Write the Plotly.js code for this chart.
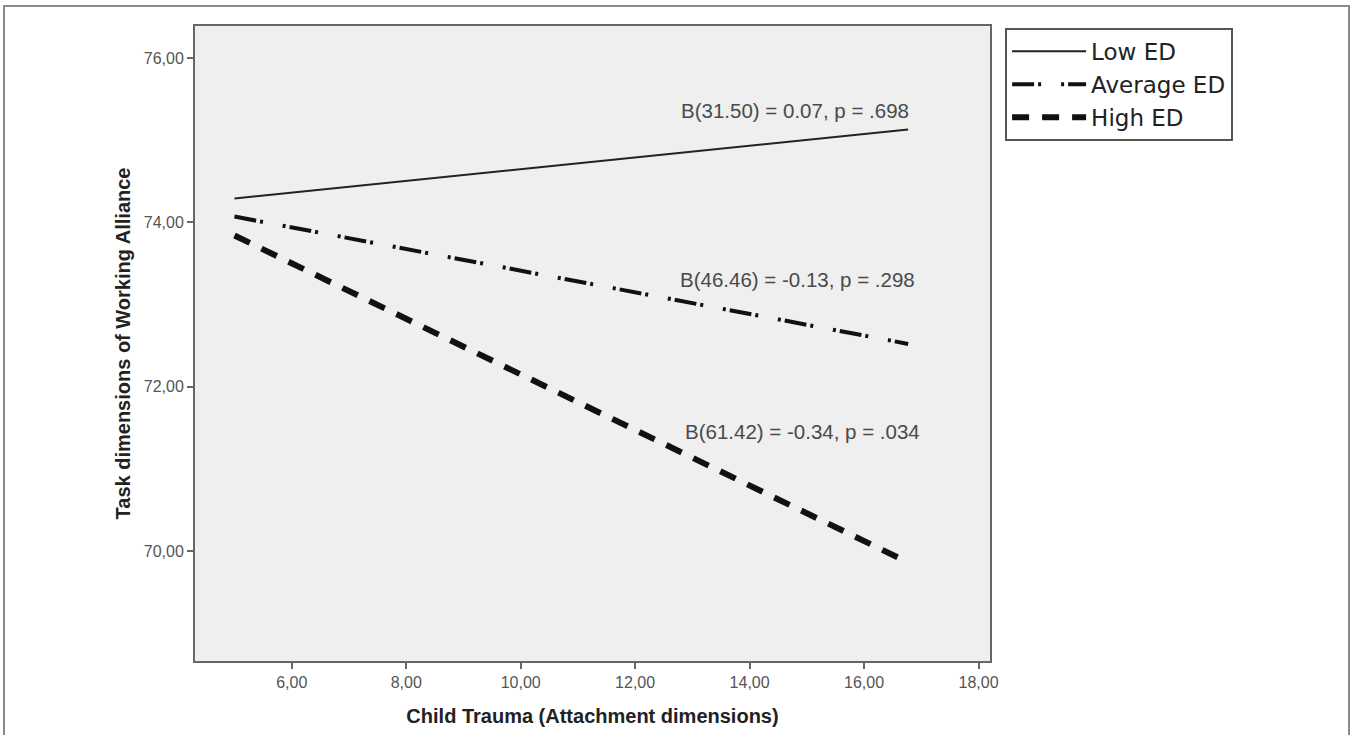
<!DOCTYPE html>
<html>
<head>
<meta charset="utf-8">
<script src="https://cdn.plot.ly/plotly-3.0.1.min.js"></script>
<style>
  html, body { margin: 0; padding: 0; background: #fff; }
  #frame { position: absolute; left: 3px; top: 5px; width: 1347px; height: 740px; border: 2px solid #8a8a8a; box-sizing: border-box; }
  #chart { position: absolute; left: 0; top: 0; width: 1351px; height: 735px; }
</style>
</head>
<body>
<div id="frame"></div>
<div id="chart"></div>
<script>
// Data
const seriesNames = ["Low ED", "Average ED", "High ED"];
const childTrauma = [5.0, 16.77];
const lowED = [74.29, 75.13];
const averageED = [74.07, 72.52];
const highED = [73.84, 69.86];

const annotationTexts = [
  "B(31.50) = 0.07, p = .698",
  "B(46.46) = -0.13, p = .298",
  "B(61.42) = -0.34, p = .034"
];
const annotationX = [14.8, 14.84, 14.92];
const annotationY = [75.36, 73.3, 71.45];

const xTickVals = [6, 8, 10, 12, 14, 16, 18];
const xTickText = ["6,00", "8,00", "10,00", "12,00", "14,00", "16,00", "18,00"];
const yTickVals = [70, 72, 74, 76];
const yTickText = ["70,00", "72,00", "74,00", "76,00"];

const traces = [
  { x: childTrauma, y: lowED, name: seriesNames[0], mode: "lines",
    line: { color: "#222", width: 2 } },
  { x: childTrauma, y: averageED, name: seriesNames[1], mode: "lines",
    line: { color: "#111", width: 4, dash: "22px,4px,3px,20px,3px,4px" } },
  { x: childTrauma, y: highED, name: seriesNames[2], mode: "lines",
    line: { color: "#111", width: 6, dash: "17px,13px" } }
];

const annotations = annotationTexts.map((t, i) => ({
  x: annotationX[i], y: annotationY[i], xref: "x", yref: "y",
  text: t, showarrow: false,
  font: { family: "Liberation Sans, Arial, sans-serif", size: 20.5, color: "#4a4a4a" }
}));

const layout = {
  width: 1351, height: 735,
  margin: { l: 195, r: 361, t: 26, b: 74 },
  paper_bgcolor: "rgba(0,0,0,0)",
  plot_bgcolor: "#efefef",
  showlegend: true,
  legend: {
    x: 1.019, y: 0.997, xanchor: "left", yanchor: "top",
    bgcolor: "#fff", bordercolor: "#555", borderwidth: 2,
    font: { family: "DejaVu Sans, Verdana, sans-serif", size: 23, color: "#222" },
    itemwidth: 74,
    tracegroupgap: 0
  },
  xaxis: {
    range: [4.31, 18.2],
    tickvals: xTickVals, ticktext: xTickText,
    ticks: "outside", ticklen: 6, tickwidth: 2, tickcolor: "#666",
    showgrid: false, zeroline: false,
    showline: true, linecolor: "#666", linewidth: 2, mirror: true,
    tickfont: { family: "Liberation Sans, Arial, sans-serif", size: 16, color: "#555" },
    title: { text: "Child Trauma (Attachment dimensions)", standoff: 19,
      font: { family: "Liberation Sans, Arial, sans-serif", size: 20, color: "#222", weight: "bold" } }
  },
  yaxis: {
    range: [68.66, 76.39],
    tickvals: yTickVals, ticktext: yTickText,
    ticks: "outside", ticklen: 6, tickwidth: 2, tickcolor: "#666",
    showgrid: false, zeroline: false,
    showline: true, linecolor: "#666", linewidth: 2, mirror: true,
    tickfont: { family: "Liberation Sans, Arial, sans-serif", size: 16, color: "#555" },
    title: { text: "Task dimensions of Working Alliance", standoff: 8,
      font: { family: "Liberation Sans, Arial, sans-serif", size: 20, color: "#222", weight: "bold" } }
  },
  annotations: annotations
};

Plotly.newPlot("chart", traces, layout, { displayModeBar: false, staticPlot: true });
</script>
</body>
</html>
